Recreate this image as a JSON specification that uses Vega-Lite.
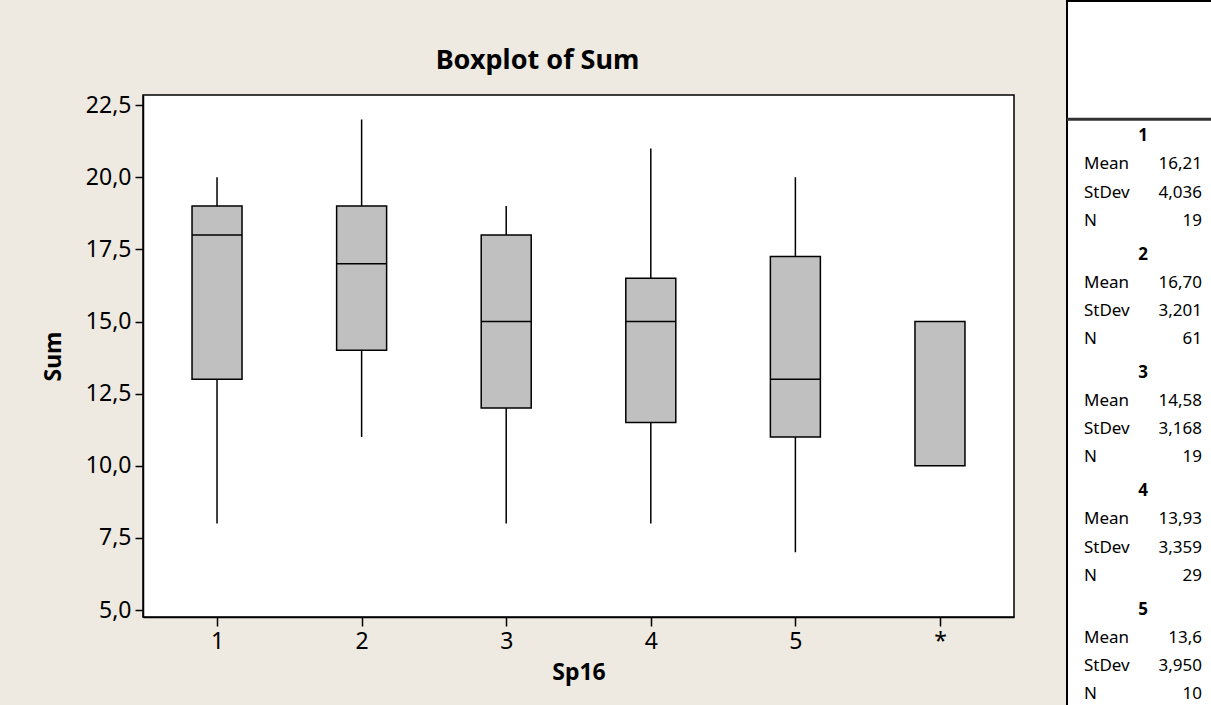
{
  "$schema": "https://vega.github.io/schema/vega-lite/v6.json",
  "background": "#EEEAE1",
  "padding": {"left": 41, "top": 0, "right": 0, "bottom": 0},
  "bounds": "flush",
  "center": true,
  "spacing": 53,
  "config": {"view": {"stroke": null}, "font": "Noto Sans"},
  "hconcat": [
    {
      "width": 871,
      "height": 522,
      "view": {"fill": "white", "stroke": "black", "strokeWidth": 1.5},
      "title": {"text": "Boxplot of Sum", "font": "Noto Sans", "fontSize": 27, "fontWeight": "bold", "color": "black", "offset": 19, "dx": -41},
      "data": {"values": [
        {"grp": "1", "lo": 8, "q1": 13, "med": 18, "q3": 19, "hi": 20},
        {"grp": "2", "lo": 11, "q1": 14, "med": 17, "q3": 19, "hi": 22},
        {"grp": "3", "lo": 8, "q1": 12, "med": 15, "q3": 18, "hi": 19},
        {"grp": "4", "lo": 8, "q1": 11.5, "med": 15, "q3": 16.5, "hi": 21},
        {"grp": "5", "lo": 7, "q1": 11, "med": 13, "q3": 17.25, "hi": 20},
        {"grp": "*", "lo": null, "q1": 10, "med": null, "q3": 15, "hi": null}
      ]},
      "encoding": {
        "x": {
          "field": "grp", "type": "nominal", "title": "Sp16",
          "scale": {"type": "point", "domain": ["1", "2", "3", "4", "5", "*"], "padding": 0.512},
          "axis": {"labelAngle": 0, "domainColor": "black", "domainWidth": 1.5, "tickColor": "black", "tickSize": 9, "tickWidth": 1.5, "labelFont": "Noto Sans", "labelFontSize": 23, "labelColor": "black", "labelPadding": 4, "titleFont": "Noto Sans", "titleFontSize": 23, "titleFontWeight": "bold", "titleColor": "black", "titlePadding": 8}
        }
      },
      "layer": [
        {
          "transform": [{"filter": "datum.lo != null"}],
          "mark": {"type": "rule", "color": "black", "strokeWidth": 1.5},
          "encoding": {
            "y": {
              "field": "lo", "type": "quantitative", "title": "Sum",
              "scale": {"domain": [4.76, 22.85], "nice": false, "zero": false},
              "axis": {"values": [5, 7.5, 10, 12.5, 15, 17.5, 20, 22.5], "labelExpr": "replace(format(datum.value, '.1f'), '.', ',')", "grid": false, "domainColor": "black", "domainWidth": 1.5, "tickColor": "black", "tickSize": 8, "tickWidth": 1.5, "labelFont": "Noto Sans", "labelFontSize": 23, "labelColor": "black", "labelPadding": 4, "titleFont": "Noto Sans", "titleFontSize": 23, "titleFontWeight": "bold", "titleColor": "black", "titlePadding": 20}
            },
            "y2": {"field": "hi"}
          }
        },
        {
          "mark": {"type": "bar", "width": 50, "color": "#C0C0C0", "stroke": "black", "strokeWidth": 1.5},
          "encoding": {
            "y": {"field": "q1", "type": "quantitative"},
            "y2": {"field": "q3"}
          }
        },
        {
          "transform": [{"filter": "datum.med != null"}],
          "mark": {"type": "tick", "size": 50, "thickness": 1.5, "color": "black", "opacity": 1},
          "encoding": {
            "y": {"field": "med", "type": "quantitative"}
          }
        }
      ]
    },
    {
      "width": 170,
      "height": 710,
      "view": {"fill": "white", "stroke": "black", "strokeWidth": 2},
      "data": {"values": [
        {"g": "1", "stat": "head", "val": ""},
        {"g": "1", "stat": "Mean", "val": "16,21"},
        {"g": "1", "stat": "StDev", "val": "4,036"},
        {"g": "1", "stat": "N", "val": "19"},
        {"g": "2", "stat": "head", "val": ""},
        {"g": "2", "stat": "Mean", "val": "16,70"},
        {"g": "2", "stat": "StDev", "val": "3,201"},
        {"g": "2", "stat": "N", "val": "61"},
        {"g": "3", "stat": "head", "val": ""},
        {"g": "3", "stat": "Mean", "val": "14,58"},
        {"g": "3", "stat": "StDev", "val": "3,168"},
        {"g": "3", "stat": "N", "val": "19"},
        {"g": "4", "stat": "head", "val": ""},
        {"g": "4", "stat": "Mean", "val": "13,93"},
        {"g": "4", "stat": "StDev", "val": "3,359"},
        {"g": "4", "stat": "N", "val": "29"},
        {"g": "5", "stat": "head", "val": ""},
        {"g": "5", "stat": "Mean", "val": "13,6"},
        {"g": "5", "stat": "StDev", "val": "3,950"},
        {"g": "5", "stat": "N", "val": "10"}
      ]},
      "layer": [
        {
          "transform": [{"filter": "datum.stat == 'head' && datum.g == '1'"}],
          "mark": {"type": "rule", "color": "#333333", "strokeWidth": 3},
          "encoding": {
            "y": {"field": "g", "type": "nominal", "bandPosition": 0, "scale": {"type": "band", "domain": ["top", "1", "2", "3", "4", "5"], "paddingInner": 0, "paddingOuter": 0}, "axis": null}
          }
        },
        {
          "transform": [{"filter": "datum.stat != 'head'"}],
          "mark": {"type": "text", "align": "left", "font": "Noto Sans", "fontSize": 17, "color": "black"},
          "encoding": {
            "y": {"field": "g", "type": "nominal", "axis": null},
            "yOffset": {"field": "stat", "type": "nominal", "scale": {"type": "point", "domain": ["head", "Mean", "StDev", "N"], "padding": 0.6}},
            "x": {"datum": "l", "type": "nominal", "scale": {"type": "point", "domain": ["l", "c", "r"], "padding": 0.44, "align": 0.327}, "axis": null},
            "text": {"field": "stat"}
          }
        },
        {
          "transform": [{"filter": "datum.stat != 'head'"}],
          "mark": {"type": "text", "align": "right", "font": "Noto Sans", "fontSize": 17, "color": "black"},
          "encoding": {
            "y": {"field": "g", "type": "nominal", "axis": null},
            "yOffset": {"field": "stat", "type": "nominal"},
            "x": {"datum": "r", "type": "nominal"},
            "text": {"field": "val"}
          }
        },
        {
          "transform": [{"filter": "datum.stat == 'head'"}],
          "mark": {"type": "text", "align": "center", "font": "Noto Sans", "fontSize": 17, "fontWeight": "bold", "color": "black"},
          "encoding": {
            "y": {"field": "g", "type": "nominal", "axis": null},
            "yOffset": {"field": "stat", "type": "nominal"},
            "x": {"datum": "c", "type": "nominal"},
            "text": {"field": "g"}
          }
        }
      ]
    }
  ]
}
